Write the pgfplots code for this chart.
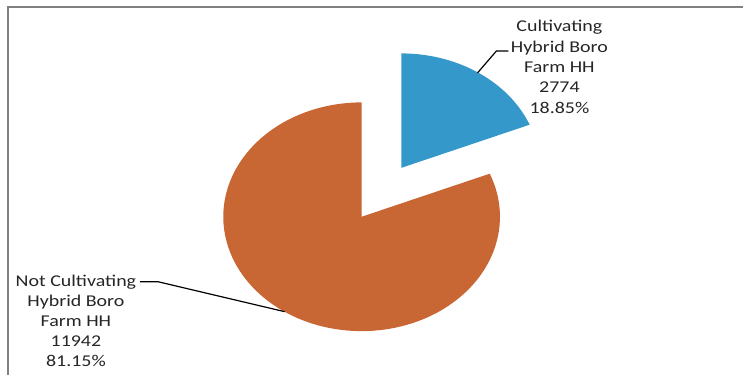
\documentclass[border=0pt]{standalone}
\usepackage{pgfplots}
\pgfplotsset{compat=1.18}
\usepackage{pgfplotstable}
\usepackage{fontspec}
\setmainfont{Carlito}[FakeStretch=1.21]
\definecolor{cblue}{RGB}{52,152,202}
\definecolor{corange}{RGB}{201,103,52}
\definecolor{frame}{RGB}{128,128,128}

\pgfplotstableread{
label value
Cultivating 2774
NotCultivating 11942
}\piedata
\pgfplotstablegetelem{0}{value}\of\piedata \let\valA\pgfplotsretval
\pgfplotstablegetelem{1}{value}\of\piedata \let\valB\pgfplotsretval
\pgfmathsetmacro{\fracA}{(\valA/1000)/((\valA+\valB)/1000)}
\pgfmathsetmacro{\angA}{360*\fracA}
\pgfmathsetmacro{\startA}{90-\angA}
\pgfmathsetmacro{\endB}{360+\startA}
\pgfmathsetmacro{\midA}{90-\angA/2}
% geometry (pixel units)
\def\cx{362}\def\cy{158}\def\rx{138.5}\def\ry{114.5}\def\expl{0.516}
\pgfmathsetmacro{\bx}{\cx+\expl*\rx*cos(\midA)}
\pgfmathsetmacro{\by}{\cy+\expl*\ry*sin(\midA)}

\begin{document}
\begin{tikzpicture}
\begin{axis}[
  scale only axis, width=744bp, height=375bp,
  xmin=0, xmax=744, ymin=0, ymax=375,
  hide axis, clip=false,
]
\path[draw=none] (axis cs:0,0) rectangle (axis cs:744,375);
% frame
\draw[frame, line width=1.6bp] (axis cs:8,0) -- (axis cs:8,368) -- (axis cs:744,368);
% slices
\addplot[fill=corange, draw=none, domain=90:\endB, samples=120, variable=\t]
  ({\cx+\rx*cos(t)}, {\cy+\ry*sin(t)}) -- (axis cs:\cx,\cy) -- cycle;
\addplot[fill=cblue, draw=none, domain=\startA:90, samples=60, variable=\t]
  ({\bx+\rx*cos(t)}, {\by+\ry*sin(t)}) -- (axis cs:\bx,\by) -- cycle;
% leader lines
\draw[black, line width=1.2bp] (axis cs:478,302) -- (axis cs:497,324) -- (axis cs:509,324);
\draw[black, line width=1.2bp] (axis cs:285,63) -- (axis cs:158,93) -- (axis cs:140,93);
% labels
\node[align=center, font=\fontsize{16.5bp}{20.4bp}\selectfont, text=black!85, inner sep=0pt]
  at (axis cs:560,308) {Cultivating\\Hybrid Boro\\Farm HH\\2774\\18.85\%};
\node[align=center, font=\fontsize{16.5bp}{20bp}\selectfont, text=black!85, inner sep=0pt]
  at (axis cs:76,53.5) {Not Cultivating\\Hybrid Boro\\Farm HH\\11942\\81.15\%};
\end{axis}
\end{tikzpicture}
\end{document}
